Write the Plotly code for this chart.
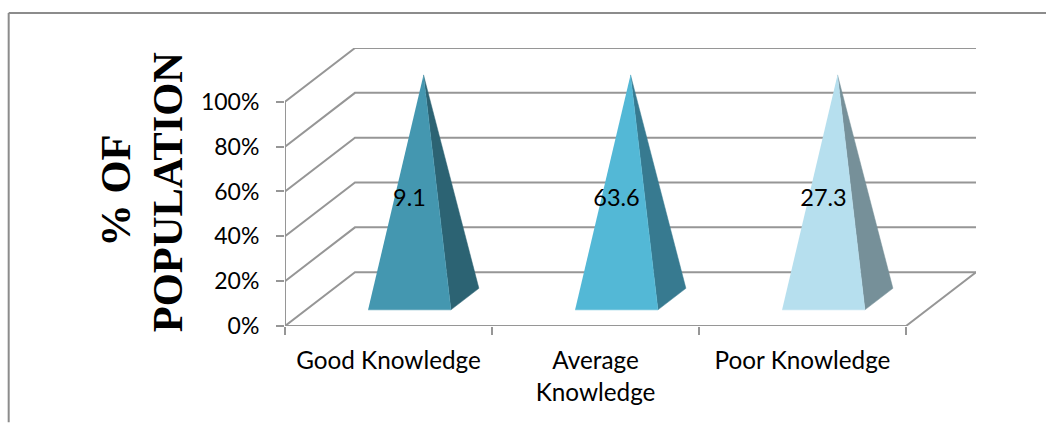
import plotly.graph_objects as go

categories = ["Good Knowledge", "Average<br>Knowledge", "Poor Knowledge"]
labels = ["9.1", "63.6", "27.3"]
# 100% stacked single series: every pyramid is normalised to full height
stacked_share = [100, 100, 100]
y_ticks = [0, 20, 40, 60, 80, 100]
y_ticktext = ["0%", "20%", "40%", "60%", "80%", "100%"]
title_lines = ["% OF", "POPULATION"]
front_colors = ["#4497B0", "#53B8D6", "#B6DFEE"]
side_colors = ["#2C6373", "#377A90", "#769099"]

GRID = "#969696"
FONT = "Lato"
W, H = 1046, 423
DX = 0.338  # depth shear in category units
DY = 24.0   # depth shear in % units
n = len(categories)
XMAX = n + DX
YMAX = 124.0
L, T, B_PX = 285.0, 48.0, 326.5
R_PX = L + 207 * XMAX


def proj(x, y, d):
    return x + DX * d, y + DY * d


def path(points):
    xy = [proj(*p) for p in points]
    return [a for a, _ in xy], [b for _, b in xy]


def px(v):
    return (v - L) / (R_PX - L)


def py(v):
    return (B_PX - v) / (B_PX - T)


fig = go.Figure()


def line(points):
    xs, ys = path(points)
    fig.add_trace(go.Scatter(x=xs, y=ys, mode="lines", line=dict(color=GRID, width=2),
                             hoverinfo="skip", showlegend=False, cliponaxis=False))


for v in y_ticks:
    line([(0, v, 0), (0, v, 1), (n, v, 1)])
line([(0, 0, 0), (n, 0, 0), (n, 0, 1)])
line([(0, 0, 0), (0, 100, 0)])

for i, h in enumerate(stacked_share):
    c = i + 0.5
    x0, x1 = c - 0.2, c + 0.2
    d0, d1 = 0.3, 0.7
    apex = (c, h, 0.5)
    for pts, col in (([(x1, 0, d0), (x1, 0, d1), apex], side_colors[i]),
                     ([(x0, 0, d0), (x1, 0, d0), apex], front_colors[i])):
        xs, ys = path(pts)
        fig.add_trace(go.Scatter(x=xs, y=ys, mode="lines", fill="toself", fillcolor=col,
                                 line=dict(color=col, width=0.5), hoverinfo="skip",
                                 showlegend=False))

lx, ly = path([(i + 0.5, h * 0.49, 0.3) for i, h in enumerate(stacked_share)])
fig.add_trace(go.Scatter(x=lx, y=ly, mode="text", text=labels,
                         textfont=dict(family=FONT, size=23.5, color="black"),
                         hoverinfo="skip", showlegend=False, cliponaxis=False))

fig.update_layout(
    width=W, height=H, autosize=False,
    margin=dict(l=L, r=W - R_PX, t=T, b=H - B_PX, pad=0),
    paper_bgcolor="white", plot_bgcolor="white", showlegend=False,
    font=dict(family=FONT, size=24, color="black"),
    xaxis=dict(range=[0, XMAX], tickmode="array",
               tickvals=[i + 0.5 for i in range(n)], ticktext=categories,
               ticks="", showgrid=False, zeroline=False, showline=False,
               ticklabelstandoff=18, tickfont=dict(family=FONT, size=24.3),
               minor=dict(tickmode="array", tickvals=list(range(n + 1)), ticks="outside",
                          ticklen=8, tickwidth=2, tickcolor=GRID, showgrid=False)),
    yaxis=dict(range=[0, YMAX], tickmode="array", tickvals=y_ticks, ticktext=y_ticktext,
               ticks="outside", ticklen=8, tickwidth=2, tickcolor=GRID,
               showgrid=False, zeroline=False, showline=False,
               ticklabelstandoff=12, tickfont=dict(family=FONT, size=23)),
    annotations=[dict(text="<b>%s</b>" % t, textangle=-90, showarrow=False,
                      xref="paper", yref="paper", x=px(xc), y=py(yc),
                      xanchor="center", yanchor="middle",
                      font=dict(family="Liberation Serif", size=42.5, color="black"))
                 for t, xc, yc in zip(title_lines, (116, 167), (191, 191.5))],
    shapes=[dict(type="line", xref="paper", yref="paper", layer="below",
                 x0=px(8.7), x1=px(8.7), y0=py(13), y1=py(423),
                 line=dict(color="#8C8C8C", width=2)),
            dict(type="line", xref="paper", yref="paper", layer="below",
                 x0=px(8.7), x1=px(1046), y0=py(13), y1=py(13),
                 line=dict(color="#8C8C8C", width=2))],
)

fig.write_html("out.html", config={"displayModeBar": False},
               post_script="document.body.style.margin='0';document.documentElement.style.overflow='hidden';")
